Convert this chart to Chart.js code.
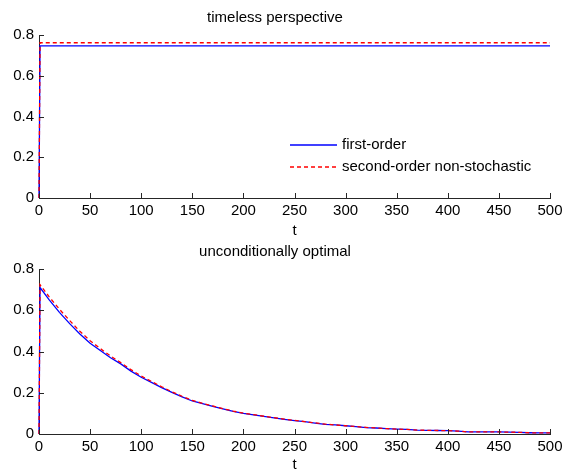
<!DOCTYPE html>
<html>
<head>
<meta charset="utf-8">
<script src="https://cdn.jsdelivr.net/npm/chart.js@4/dist/chart.umd.min.js"></script>
<style>
  html, body { margin: 0; padding: 0; background: #fff; overflow: hidden; width: 562px; height: 472px; }
  .box { position: absolute; left: 0; width: 580px; }
  #b1 { top: 0; height: 238px; }
  #b2 { top: 234px; height: 238px; }
</style>
</head>
<body>
<div class="box" id="b1"><canvas id="c1"></canvas></div>
<div class="box" id="b2"><canvas id="c2"></canvas></div>
<script>
// ---------- data ----------
const seriesLabels = ['first-order', 'second-order non-stochastic'];
const xTicks = [0, 50, 100, 150, 200, 250, 300, 350, 400, 450, 500];
const yTicks = [0, 0.2, 0.4, 0.6, 0.8];

// timeless perspective
const tTop = [0, 1, 500];
const firstTop = [0, 0.747, 0.747];
const secondTop = [0, 0.762, 0.762];

// unconditionally optimal
const tBottom = [0, 1, 10, 20, 30, 40, 50, 60, 70, 80, 90, 100, 110, 120, 130, 140, 150, 160, 170, 180, 190,
  200, 210, 220, 230, 240, 250, 260, 270, 280, 290, 300, 310, 320, 330, 340, 350, 360, 370, 380, 390,
  400, 410, 420, 430, 440, 450, 460, 470, 480, 490, 500];
const firstBottom = [0, 0.710, 0.650, 0.590, 0.535, 0.485, 0.440, 0.405, 0.370, 0.340, 0.305, 0.275, 0.250,
  0.225, 0.202, 0.180, 0.160, 0.147, 0.134, 0.122, 0.110, 0.100, 0.093, 0.085, 0.078, 0.071, 0.065, 0.060,
  0.053, 0.047, 0.044, 0.040, 0.036, 0.031, 0.029, 0.026, 0.024, 0.022, 0.019, 0.018, 0.017, 0.016, 0.014,
  0.010, 0.010, 0.010, 0.010, 0.009, 0.008, 0.006, 0.005, 0.005];
const secondBottom = [0, 0.724, 0.665, 0.605, 0.550, 0.498, 0.452, 0.414, 0.378, 0.346, 0.312, 0.281, 0.255,
  0.229, 0.205, 0.183, 0.163, 0.149, 0.136, 0.123, 0.111, 0.101, 0.094, 0.086, 0.079, 0.072, 0.066, 0.060,
  0.054, 0.048, 0.044, 0.040, 0.036, 0.032, 0.029, 0.026, 0.024, 0.022, 0.019, 0.018, 0.017, 0.016, 0.014,
  0.010, 0.010, 0.010, 0.010, 0.009, 0.008, 0.006, 0.005, 0.005];

// ---------- style ----------
const FONT = "'Liberation Sans', Arial, Helvetica, sans-serif";
const FS = 15;
const AXIS_COLOR = '#262626';
const COLORS = ['#0000ff', '#ff0000'];
const DASHES = [[], [4, 3]];

function pts(xs, ys) { return xs.map((x, i) => ({ x: x, y: ys[i] })); }

const innerTicks = {
  id: 'innerTicks',
  afterDatasetsDraw(chart) {
    const ctx = chart.ctx, xs = chart.scales.x, ys = chart.scales.y;
    const a = chart.chartArea;
    ctx.save();
    ctx.strokeStyle = AXIS_COLOR;
    ctx.lineWidth = 1;
    ctx.beginPath();
    xs.ticks.forEach(t => {
      const px = Math.round(xs.getPixelForValue(t.value)) + 0.5;
      ctx.moveTo(px, a.bottom); ctx.lineTo(px, a.bottom - 5);
    });
    ys.ticks.forEach(t => {
      const py = Math.round(ys.getPixelForValue(t.value)) + 0.5;
      ctx.moveTo(a.left, py); ctx.lineTo(a.left + 5, py);
    });
    ctx.stroke();
    ctx.restore();
  }
};

const innerLegend = {
  id: 'innerLegend',
  afterDraw(chart, args, opts) {
    if (!opts.show) return;
    const ctx = chart.ctx, a = chart.chartArea;
    const x0 = a.left + 251, x1 = a.left + 298, tx = a.left + 303;
    const rows = [a.top + 110, a.top + 132];
    ctx.save();
    ctx.font = FS + 'px ' + FONT;
    ctx.textBaseline = 'middle';
    ctx.textAlign = 'left';
    chart.data.datasets.forEach((ds, i) => {
      const y = rows[i];
      ctx.strokeStyle = COLORS[i];
      ctx.lineWidth = 1.6;
      ctx.setLineDash(DASHES[i]);
      ctx.beginPath(); ctx.moveTo(x0, y); ctx.lineTo(x1, y); ctx.stroke();
      ctx.setLineDash([]);
      ctx.fillStyle = '#000';
      ctx.fillText(ds.label, tx, rows[i]);
    });
    ctx.restore();
  }
};

function makeChart(id, title, xs, y1, y2, showLegend, xAxisHeight) {
  return new Chart(document.getElementById(id), {
    type: 'line',
    data: {
      datasets: [
        { label: seriesLabels[0], data: pts(xs, y1), borderColor: COLORS[0], borderWidth: 1.3,
          pointRadius: 0, tension: 0, fill: false, order: 1, clip: false },
        { label: seriesLabels[1], data: pts(xs, y2), borderColor: COLORS[1], borderWidth: 1.3,
          borderDash: DASHES[1], pointRadius: 0, tension: 0, fill: false, order: 0, clip: false }
      ]
    },
    options: {
      responsive: true,
      maintainAspectRatio: false,
      animation: false,
      layout: { padding: { left: 0, right: 30, top: 0, bottom: 0 } },
      plugins: {
        legend: { display: false },
        tooltip: { enabled: false },
        innerLegend: { show: showLegend },
        title: {
          display: true, text: title, color: '#000',
          font: { family: FONT, size: FS, weight: 'normal', lineHeight: 1.2 },
          padding: { top: 9, bottom: 8 }
        }
      },
      scales: {
        x: {
          type: 'linear', min: 0, max: 500,
          afterBuildTicks: s => { s.ticks = xTicks.map(v => ({ value: v })); },
          afterFit: s => { s.height = xAxisHeight; },
          ticks: { color: '#000', font: { family: FONT, size: FS }, padding: 4, maxRotation: 0, autoSkip: false },
          grid: { display: false, drawTicks: false },
          border: { display: true, color: AXIS_COLOR, width: 1 },
          title: { display: true, text: 't', color: '#000', font: { family: FONT, size: FS, lineHeight: 1 },
                   padding: { top: 0, bottom: 0 } }
        },
        y: {
          type: 'linear', min: 0, max: 0.8,
          afterBuildTicks: s => { s.ticks = yTicks.map(v => ({ value: v })); },
          afterFit: s => { s.width = 39; },
          ticks: { color: '#000', font: { family: FONT, size: FS }, padding: 5,
                   callback: v => String(v) },
          grid: { display: false, drawTicks: false },
          border: { display: true, color: AXIS_COLOR, width: 1 }
        }
      }
    },
    plugins: [innerTicks, innerLegend]
  });
}

makeChart('c1', 'timeless perspective', tTop, firstTop, secondTop, true, 40);
makeChart('c2', 'unconditionally optimal', tBottom, firstBottom, secondBottom, false, 38);
</script>
</body>
</html>
